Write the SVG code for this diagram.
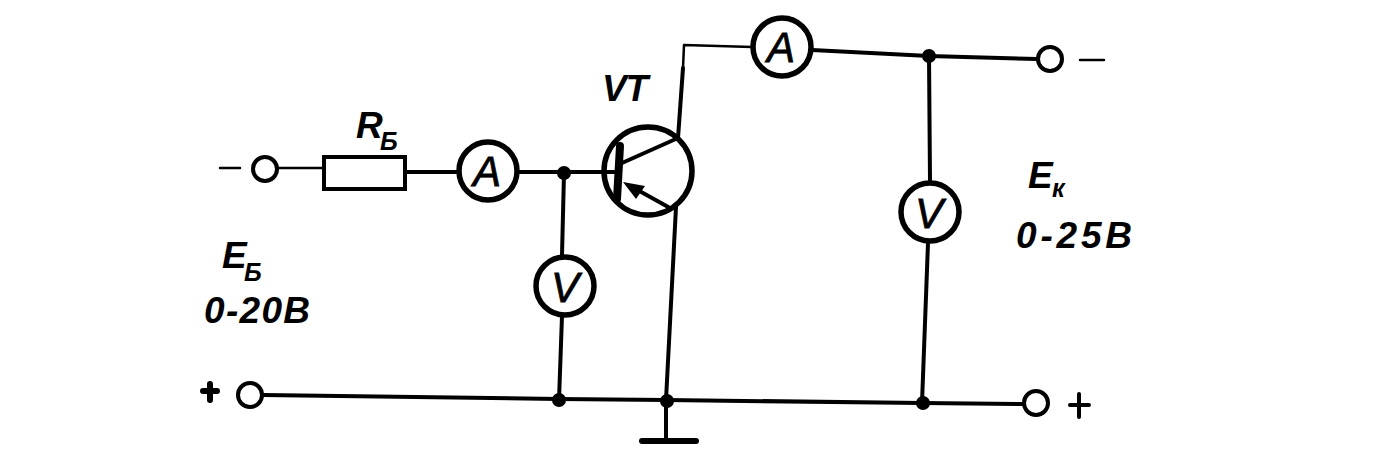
<svg xmlns="http://www.w3.org/2000/svg" width="1381" height="467" viewBox="0 0 1381 467">
<style>
.w{fill:none;stroke:#000;stroke-width:4;stroke-linecap:round;stroke-linejoin:round}
.thin{stroke-width:2.5}
.thick{stroke-width:6}
.bar{stroke-width:8}
.c{fill:#fff;stroke:#000;stroke-width:5.5}
.t{fill:#fff;stroke:#000;stroke-width:4}
.d{fill:#000}
text{font-family:"Liberation Sans",Arial,sans-serif;font-style:italic;font-weight:bold;fill:#000}
.m{font-size:42px;text-anchor:middle;font-weight:normal;stroke:#000;stroke-width:.8}
.l{font-size:37px}
.s{font-size:25px}
</style>
<rect width="1381" height="467" fill="#fff"/>
<g id="connectors">
<path class="w thin" d="M278 168H323"/>
<path class="w" d="M405 172H458M518 172H603"/>
<path class="w" d="M564 173L562 255M562 316L559 400"/>
<path class="w" d="M263 395L559 399L666 400L922 403L1023 404"/>
<path class="w" d="M678 138L683 68"/>
<path class="w thin" d="M683 68L684 45L752 47"/>
<path class="w" d="M812 50L929 56L1037 59"/>
<path class="w" d="M929 56L930 181M928 243L922 403"/>
<path class="w" d="M676 207L666 400V440"/>
<path class="w thick" d="M642 441H696"/>
<circle class="d" cx="564" cy="173" r="7"/>
<circle class="d" cx="559" cy="400" r="7"/>
<circle class="d" cx="667" cy="401" r="7"/>
<circle class="d" cx="929" cy="56" r="7"/>
<circle class="d" cx="923" cy="403" r="7"/>
</g>
<g id="terminal-base-minus"><circle class="t" cx="265" cy="169" r="12"/><path class="w thin" d="M220 168H240"/></g>
<g id="terminal-base-plus"><circle class="t" cx="250" cy="395" r="12"/><path class="w thick" d="M203 391H217M210 384V400"/></g>
<g id="terminal-collector-minus"><circle class="t" cx="1050" cy="59" r="12"/><path class="w thin" d="M1080 60H1104"/></g>
<g id="terminal-collector-plus"><circle class="t" cx="1036" cy="403" r="12"/><path class="w" d="M1070 405H1089M1079 394V417"/></g>
<g id="resistor"><rect class="t" x="324" y="157" width="81" height="32"/></g>
<g id="ammeter-base"><circle class="c" cx="488" cy="171" r="29"/><text class="m" x="487" y="186">A</text></g>
<g id="ammeter-collector"><circle class="c" cx="782" cy="47" r="29"/><text class="m" x="781" y="62">A</text></g>
<g id="voltmeter-base"><circle class="c" cx="565" cy="286" r="29"/><text class="m" x="565" y="302">V</text></g>
<g id="voltmeter-collector"><circle class="c" cx="930" cy="212" r="29"/><text class="m" x="929" y="228">V</text></g>
<g id="transistor">
<circle cx="648" cy="171" r="44" fill="none" stroke="#000" stroke-width="5.5"/>
<path class="w" d="M600 172H619"/>
<path class="w bar" d="M620 146L617 199"/>
<path class="w" d="M622 163L678 138M634 188L670 208"/>
<path class="d" d="M623 182L645 186L636 199Z"/>
</g>
<g id="labels">
<text class="l" x="602" y="101" textLength="46" lengthAdjust="spacing">VT</text>
<text class="l" x="356" y="138">R</text>
<text class="s" x="380" y="150">Б</text>
<text class="l" x="222" y="268">E</text>
<text class="s" x="244" y="281">Б</text>
<text class="l" x="204" y="323" textLength="106" lengthAdjust="spacing">0-20В</text>
<text class="l" x="1028" y="188">E</text>
<text class="s" x="1052" y="197">к</text>
<text class="l" x="1016" y="248" textLength="116" lengthAdjust="spacing">0-25В</text>
</g>
</svg>
